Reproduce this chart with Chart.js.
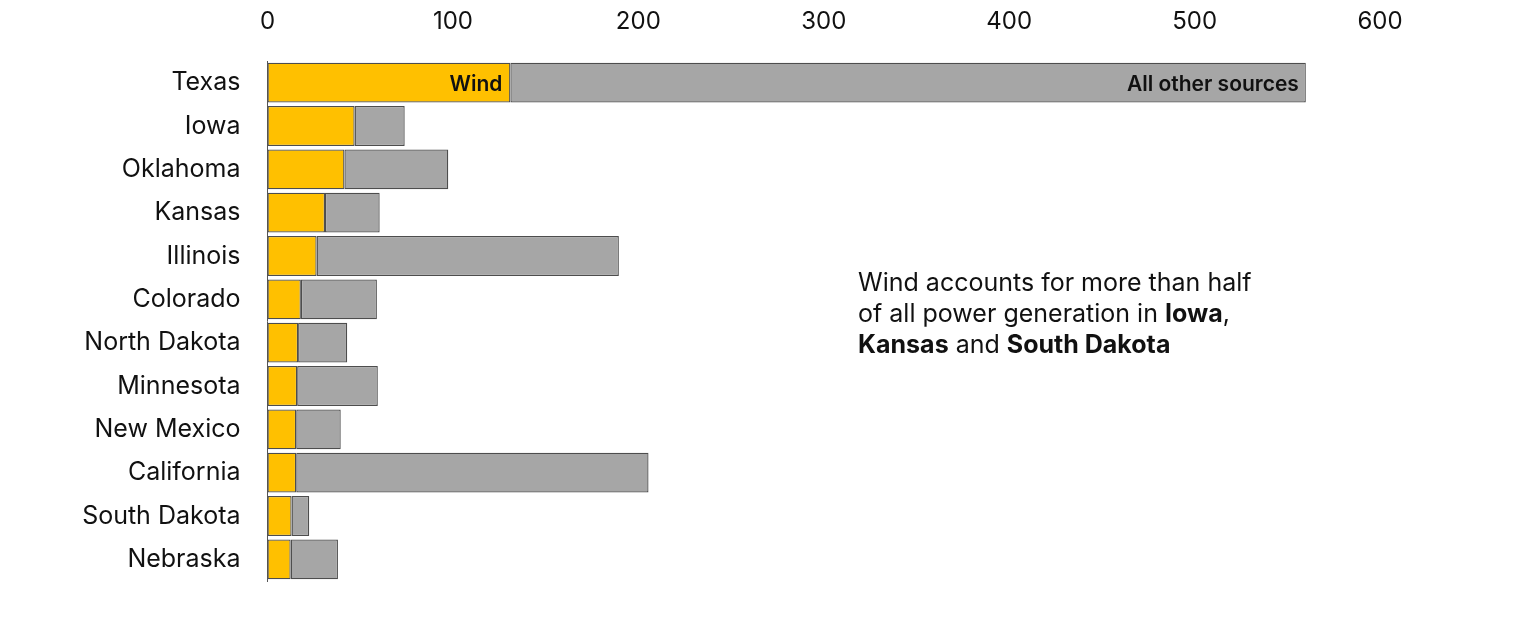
<!DOCTYPE html>
<html>
<head>
<meta charset="utf-8">
<script src="https://cdn.jsdelivr.net/npm/chart.js@4"></script>
<style>
  html, body { margin: 0; padding: 0; background: #fff; }
  #wrap { width: 1536px; height: 619px; }
</style>
</head>
<body>
<div id="wrap"><canvas id="myChart" width="1536" height="619"></canvas></div>
<script>
const states = ['Texas', 'Iowa', 'Oklahoma', 'Kansas', 'Illinois', 'Colorado',
  'North Dakota', 'Minnesota', 'New Mexico', 'California', 'South Dakota', 'Nebraska']
const wind = [131, 47, 41.5, 31, 26.5, 18, 16.5, 16, 15.5, 15.5, 13, 12.5]
const otherSources = [429, 27, 56, 29.5, 163, 41, 26.5, 43.5, 24, 190, 9.5, 25.5]
const xTicks = [0, 100, 200, 300, 400, 500, 600]

const FONT = 'Inter, "Noto Sans", sans-serif'

// labels inside the Texas bar + the note on the right
const notesPlugin = {
  id: 'notes',
  afterDatasetsDraw(chart) {
    const c = chart.ctx
    const windBar = chart.getDatasetMeta(0).data[0]
    const otherBar = chart.getDatasetMeta(1).data[0]
    c.save()
    c.fillStyle = '#111'
    c.font = '600 21px ' + FONT
    c.textAlign = 'right'
    c.textBaseline = 'middle'
    c.fillText('Wind', windBar.x - 8, windBar.y + 2)
    c.fillText('All other sources', otherBar.x - 7, otherBar.y + 2)

    // annotation
    const x0 = chart.scales.x.getPixelForValue(318.5)
    const lines = [
      [['Wind accounts for more than half', false]],
      [['of all power generation in ', false], ['Iowa', true], [',', false]],
      [['Kansas', true], [' and ', false], ['South Dakota', true]]
    ]
    c.textAlign = 'left'
    let y = 283
    lines.forEach(parts => {
      let x = x0
      parts.forEach(([txt, bold]) => {
        c.font = (bold ? '700 ' : '400 ') + '25px ' + FONT
        c.fillText(txt, x, y)
        x += c.measureText(txt).width
      })
      y += 31
    })
    c.restore()
  }
}

const ctx = document.getElementById('myChart')
// eslint-disable-next-line no-unused-vars
const myChart = new Chart(ctx, {
  type: 'bar',
  data: {
    labels: states,
    datasets: [{
      label: 'Wind',
      data: wind,
      backgroundColor: '#FFC000',
      borderColor: '#4d4d4d',
      borderWidth: 1.3,
      borderSkipped: false,
      barPercentage: 0.92,
      categoryPercentage: 1
    }, {
      label: 'All other sources',
      data: otherSources,
      backgroundColor: '#A6A6A6',
      borderColor: '#4d4d4d',
      borderWidth: 1.3,
      borderSkipped: false,
      barPercentage: 0.92,
      categoryPercentage: 1
    }]
  },
  options: {
    indexAxis: 'y',
    responsive: false,
    animation: false,
    layout: { padding: { left: 0, right: 156, top: 0, bottom: 38 } },
    plugins: {
      legend: { display: false },
      tooltip: { enabled: false }
    },
    scales: {
      x: {
        position: 'top',
        stacked: true,
        min: 0,
        max: 600,
        afterBuildTicks: scale => {
          scale.ticks = xTicks.map(v => ({ value: v }))
        },
        afterFit: scale => { scale.height = 61 },
        grid: { display: false, drawTicks: false },
        border: { display: false },
        ticks: {
          color: '#111',
          padding: 25,
          font: { family: FONT, size: 24 }
        }
      },
      y: {
        stacked: true,
        afterFit: scale => {
          scale.width = 267.5
          // labels sit inside their rows, no extra room needed below
          scale.paddingTop = 0
          scale.paddingBottom = 0
        },
        grid: { display: false, drawTicks: false },
        border: { display: true, color: '#555', width: 1 },
        ticks: {
          color: '#111',
          padding: 27,
          font: { family: FONT, size: 25 }
        }
      }
    }
  },
  plugins: [notesPlugin]
})
</script>
</body>
</html>
